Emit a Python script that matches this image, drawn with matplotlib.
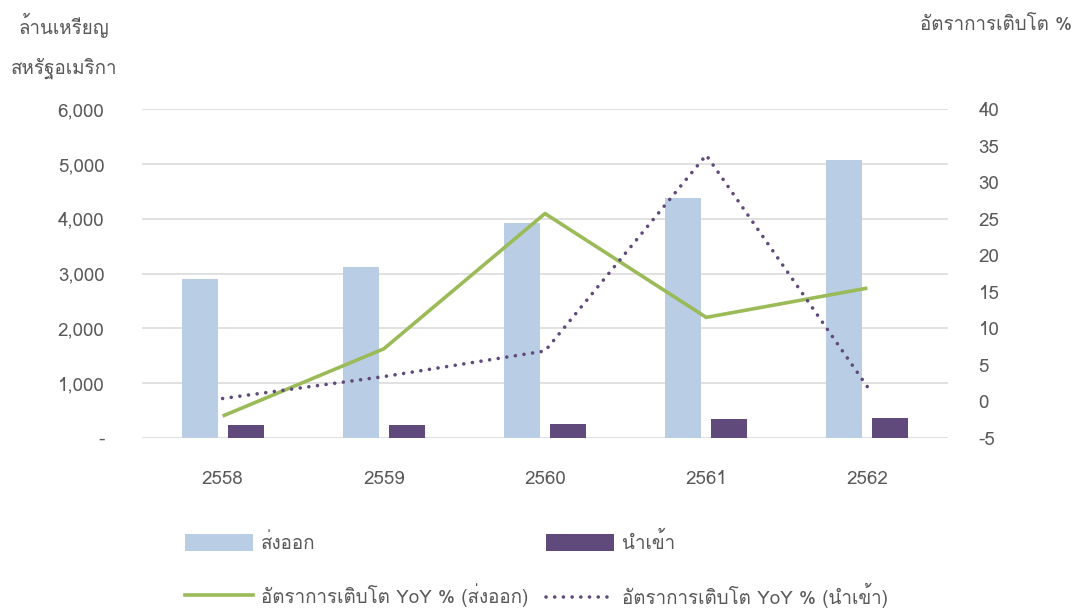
import matplotlib
matplotlib.use("Agg")
import matplotlib.pyplot as plt
import matplotlib.font_manager as fm
from matplotlib.ft2font import FT2Font
from matplotlib.patches import Patch
from matplotlib.lines import Line2D

# ---------------- data ----------------
years = ['2558', '2559', '2560', '2561', '2562']
export_vals = [2900, 3115, 3915, 4380, 5065]
import_vals = [235, 245, 262, 352, 365]
export_growth = [-2.0, 7.2, 25.7, 11.5, 15.5]
import_growth = [0.4, 3.4, 6.9, 33.7, 2.0]
left_ticks = [0, 1000, 2000, 3000, 4000, 5000, 6000]
right_ticks = [-5, 0, 5, 10, 15, 20, 25, 30, 35, 40]

lbl_export = 'ส่งออก'
lbl_import = 'นำเข้า'
lbl_eg = 'อัตราการเติบโต YoY % (ส่งออก)'
lbl_ig = 'อัตราการเติบโต YoY % (นำเข้า)'
ylabel_left_1 = 'ล้านเหรียญ'
ylabel_left_2 = 'สหรัฐอเมริกา'
ylabel_right = 'อัตราการเติบโต %'

# ---------------- fonts ----------------
thai_fonts = []
for f in fm.fontManager.ttflist:
    try:
        cm = FT2Font(f.fname).get_charmap()
        if 0x0E01 in cm and 0x0E33 in cm and f.name not in thai_fonts:
            thai_fonts.append(f.name)
    except Exception:
        pass
families = thai_fonts + ['DejaVu Sans']
plt.rcParams['font.family'] = families

TXT = '#595959'
FS = 13.5
C_EXP = '#B9CDE5'
C_IMP = '#604A7B'
C_EG = '#9BBB59'
C_IG = '#604A7B'
DOTS = (0, (0.01, 2.4))

W, H = 1078, 610
fig = plt.figure(figsize=(W / 100, H / 100), dpi=100)
ax = fig.add_axes([142 / W, (H - 438) / H, (948 - 142) / W, (438 - 109) / H])

x = list(range(len(years)))
bw = 0.223
off = 0.143
ax.bar([i - off for i in x], export_vals, width=bw, color=C_EXP, zorder=2)
ax.bar([i + off for i in x], import_vals, width=bw, color=C_IMP, zorder=2)

ax.set_xlim(-0.5, len(years) - 0.5)
ax.set_ylim(0, 6000)
ax.set_yticks(left_ticks)
ax.set_yticklabels(['-' if v == 0 else f'{v:,}' for v in left_ticks])
ax.set_xticks(x)
ax.set_xticklabels(years)
ax.grid(axis='y', color='#D9D9D9', lw=1.1, zorder=0)
ax.set_axisbelow(True)
ax.tick_params(axis='y', length=0, pad=27, labelsize=FS, labelcolor=TXT)
ax.tick_params(axis='x', length=0, pad=23, labelsize=FS, labelcolor=TXT)
for s in ax.spines.values():
    s.set_visible(False)

ax2 = ax.twinx()
ax2.plot(x, export_growth, color=C_EG, lw=2.6, solid_capstyle='butt', zorder=3)
ax2.plot(x, import_growth, color=C_IG, lw=2.6, linestyle=DOTS,
         dash_capstyle='round', zorder=3)
ax2.set_ylim(-5, 40)
ax2.set_yticks(right_ticks)
ax2.set_yticklabels([str(v) for v in right_ticks])
ax2.tick_params(axis='y', length=0, pad=22, labelsize=FS, labelcolor=TXT)
for s in ax2.spines.values():
    s.set_visible(False)

fig.text(64 / W, 1 - 25 / H, ylabel_left_1, ha='center', va='center', fontsize=FS, color=TXT)
fig.text(64 / W, 1 - 68 / H, ylabel_left_2, ha='center', va='center', fontsize=FS, color=TXT)
fig.text(1072 / W, 1 - 25 / H, ylabel_right, ha='right', va='center', fontsize=FS, color=TXT)

handles = [
    Patch(facecolor=C_EXP, edgecolor='none'),
    Line2D([], [], color=C_EG, lw=2.6),
    Patch(facecolor=C_IMP, edgecolor='none'),
    Line2D([], [], color=C_IG, lw=2.6, linestyle=DOTS, dash_capstyle='round'),
]
labels = [lbl_export, lbl_eg, lbl_import, lbl_ig]
leg = fig.legend(handles, labels, ncol=2, loc='upper left',
                 bbox_to_anchor=(185 / W, 1 - 532 / H), frameon=False,
                 fontsize=FS, labelcolor=TXT, handlelength=3.6, handleheight=1.05,
                 handletextpad=0.45, labelspacing=1.6, columnspacing=0.95,
                 borderaxespad=0, borderpad=0)

fig.savefig('out.png', dpi=100)
